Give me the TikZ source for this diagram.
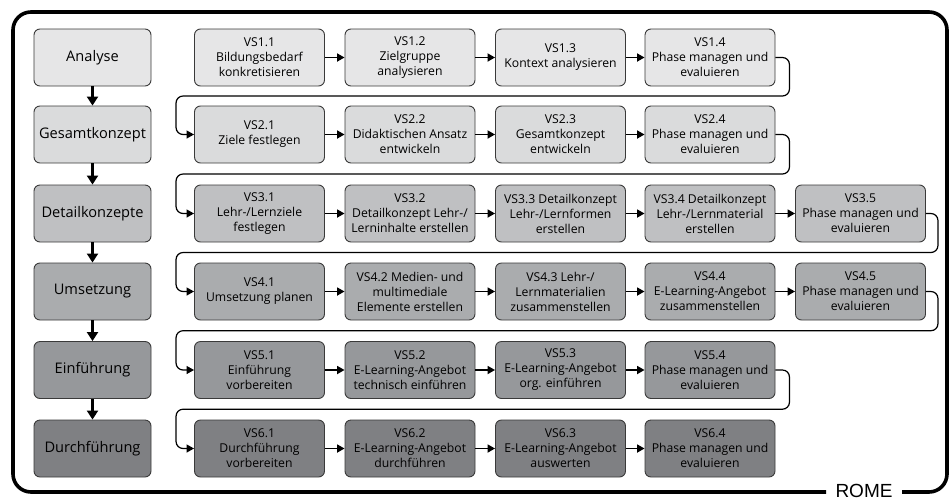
\documentclass[tikz,border=0pt]{standalone}
\usepackage{fontspec}
\setmainfont{Open Sans}
\newfontfamily\romefont{Liberation Sans}
\usetikzlibrary{arrows.meta}

\definecolor{shadeA}{HTML}{E6E6E7}
\definecolor{shadeB}{HTML}{DADBDC}
\definecolor{shadeC}{HTML}{BFC0C2}
\definecolor{shadeD}{HTML}{AAACAE}
\definecolor{shadeE}{HTML}{96989B}
\definecolor{shadeF}{HTML}{7F8083}
\definecolor{rim}{HTML}{3A3A3A}

\tikzset{
  phase/.style={draw=rim, line width=0.9pt, rounded corners=6pt, minimum width=117pt,
    minimum height=57pt, inner sep=0pt, font=\fontsize{14.6}{17}\selectfont},
  stepbox/.style={draw=rim, line width=0.9pt, rounded corners=6pt, minimum width=130pt,
    minimum height=57pt, inner sep=0pt, align=center, font=\fontsize{12.2}{15}\selectfont},
  next/.style={-{Triangle[length=7.5pt,width=8pt]}, line width=1.7pt},
  down/.style={-{Triangle[length=9pt,width=11pt]}, line width=2.9pt},
  wrap/.style={-{Triangle[length=7.5pt,width=8pt]}, line width=1.2pt, rounded corners=7pt},
}

\begin{document}
\begin{tikzpicture}[x=1pt, y=-1pt]
\useasboundingbox (0,0) rectangle (952,501);
% Frame
    \draw[line width=3.6pt, rounded corners=18pt] (826,492) -- (13,492) -- (13,12) -- (947,12) -- (947,492) -- (902,492);
    \node[font=\romefont\fontsize{19}{21}\selectfont, inner sep=0pt] (rome) at (864,491) {ROME};
% Phases
    \node[phase, fill=shadeA] (ana) at (92.5,57.5) {Analyse};
    \node[phase, fill=shadeB] (ges) at (92.5,134.5) {Gesamtkonzept};
    \node[phase, fill=shadeC] (det) at (92.5,213.5) {Detailkonzepte};
    \node[phase, fill=shadeD] (ums) at (92.5,291.5) {Umsetzung};
    \node[phase, fill=shadeE] (ein) at (92.5,370) {Einführung};
    \node[phase, fill=shadeF] (dur) at (92.5,448.5) {Durchführung};
% Steps
    \node[stepbox, fill=shadeA] (s11) at (259.5,57.5) {VS1.1\\Bildungsbedarf\\konkretisieren};
    \node[stepbox, fill=shadeA] (s12) at (410,57.5) {VS1.2\\Zielgruppe\\analysieren};
    \node[stepbox, fill=shadeA] (s13) at (560.5,57.5) {VS1.3\\Kontext analysieren};
    \node[stepbox, fill=shadeA] (s14) at (710,57.5) {VS1.4\\Phase managen und\\evaluieren};
    \node[stepbox, fill=shadeB] (s21) at (259.5,134.5) {VS2.1\\Ziele festlegen};
    \node[stepbox, fill=shadeB] (s22) at (410,134.5) {VS2.2\\Didaktischen Ansatz\\entwickeln};
    \node[stepbox, fill=shadeB] (s23) at (560.5,134.5) {VS2.3\\Gesamtkonzept\\entwickeln};
    \node[stepbox, fill=shadeB] (s24) at (710,134.5) {VS2.4\\Phase managen und\\evaluieren};
    \node[stepbox, fill=shadeC] (s31) at (259.5,213.5) {VS3.1\\Lehr-/Lernziele\\festlegen};
    \node[stepbox, fill=shadeC] (s32) at (410,213.5) {VS3.2\\Detailkonzept Lehr-/\\Lerninhalte erstellen};
    \node[stepbox, fill=shadeC] (s33) at (560.5,213.5) {VS3.3 Detailkonzept\\Lehr-/Lernformen\\erstellen};
    \node[stepbox, fill=shadeC] (s34) at (710,213.5) {VS3.4 Detailkonzept\\Lehr-/Lernmaterial\\erstellen};
    \node[stepbox, fill=shadeC] (s35) at (860.5,213.5) {VS3.5\\Phase managen und\\evaluieren};
    \node[stepbox, fill=shadeD] (s41) at (259.5,291.5) {VS4.1\\Umsetzung planen};
    \node[stepbox, fill=shadeD] (s42) at (410,291.5) {VS4.2 Medien- und\\multimediale\\Elemente erstellen};
    \node[stepbox, fill=shadeD] (s43) at (560.5,291.5) {VS4.3 Lehr-/\\Lernmaterialien\\zusammenstellen};
    \node[stepbox, fill=shadeD] (s44) at (710,291.5) {VS4.4\\E-Learning-Angebot\\zusammenstellen};
    \node[stepbox, fill=shadeD] (s45) at (860.5,291.5) {VS4.5\\Phase managen und\\evaluieren};
    \node[stepbox, fill=shadeE] (s51) at (259.5,370) {VS5.1\\Einführung\\vorbereiten};
    \node[stepbox, fill=shadeE] (s52) at (410,370) {VS5.2\\E-Learning-Angebot\\technisch einführen};
    \node[stepbox, fill=shadeE] (s53) at (560.5,370) {VS5.3\\E-Learning-Angebot\\org. einführen};
    \node[stepbox, fill=shadeE] (s54) at (710,370) {VS5.4\\Phase managen und\\evaluieren};
    \node[stepbox, fill=shadeF] (s61) at (259.5,448.5) {VS6.1\\Durchführung\\vorbereiten};
    \node[stepbox, fill=shadeF] (s62) at (410,448.5) {VS6.2\\E-Learning-Angebot\\durchführen};
    \node[stepbox, fill=shadeF] (s63) at (560.5,448.5) {VS6.3\\E-Learning-Angebot\\auswerten};
    \node[stepbox, fill=shadeF] (s64) at (710,448.5) {VS6.4\\Phase managen und\\evaluieren};
% Phase order
    \draw[down] (ana) -- (ges);
    \draw[down] (ges) -- (det);
    \draw[down] (det) -- (ums);
    \draw[down] (ums) -- (ein);
    \draw[down] (ein) -- (dur);
% Steps within a row
    \draw[next] (s11) -- (s12);
    \draw[next] (s12) -- (s13);
    \draw[next] (s13) -- (s14);
    \draw[next] (s21) -- (s22);
    \draw[next] (s22) -- (s23);
    \draw[next] (s23) -- (s24);
    \draw[next] (s31) -- (s32);
    \draw[next] (s32) -- (s33);
    \draw[next] (s33) -- (s34);
    \draw[next] (s34) -- (s35);
    \draw[next] (s41) -- (s42);
    \draw[next] (s42) -- (s43);
    \draw[next] (s43) -- (s44);
    \draw[next] (s44) -- (s45);
    \draw[next] (s51) -- (s52);
    \draw[next] (s52) -- (s53);
    \draw[next] (s53) -- (s54);
    \draw[next] (s61) -- (s62);
    \draw[next] (s62) -- (s63);
    \draw[next] (s63) -- (s64);
% Wrap to next row
    \draw[wrap] (s14.east) -- ++(14,0) -- ++(0,38.5) -| ([xshift=-18pt]s21.west) -- (s21.west);
    \draw[wrap] (s24.east) -- ++(14,0) -- ++(0,39.5) -| ([xshift=-18pt]s31.west) -- (s31.west);
    \draw[wrap] (s35.east) -- ++(12,0) -- ++(0,39) -| ([xshift=-18pt]s41.west) -- (s41.west);
    \draw[wrap] (s45.east) -- ++(12,0) -- ++(0,39.2) -| ([xshift=-18pt]s51.west) -- (s51.west);
    \draw[wrap] (s54.east) -- ++(14,0) -- ++(0,39.2) -| ([xshift=-18pt]s61.west) -- (s61.west);
\end{tikzpicture}
\end{document}
